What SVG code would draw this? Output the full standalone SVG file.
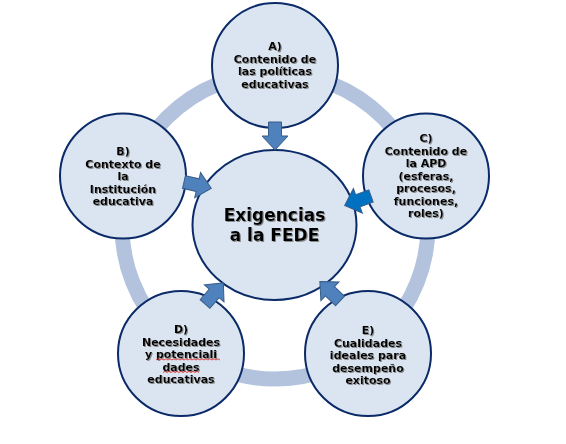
<svg xmlns="http://www.w3.org/2000/svg" width="566" height="444" viewBox="0 0 566 444">
  <defs>
    <filter id="sh" x="-10%" y="-10%" width="130%" height="130%">
      <feDropShadow dx="1" dy="1" stdDeviation="0.4" flood-color="#7f7f7f" flood-opacity="0.9"/>
    </filter>
    <path id="arr" d="M0,-6.5 L14,-6.5 L14,-13 L28,0 L14,13 L14,6.5 L0,6.5 Z"/>
  </defs>
  <style>
    .node { fill: #dbe5f1; stroke: #0b2a68; stroke-width: 2; }
    .lbl { font-family: "DejaVu Sans", Verdana, sans-serif; font-weight: bold; font-size: 11px; fill: #000; text-anchor: middle; filter: url(#sh); }
    .big { font-size: 17px; }
    .arrow { fill: #4f81bd; stroke: #385d8a; stroke-width: 1; }
    .arrow2 { fill: #0070c0; stroke: #385d8a; stroke-width: 1; }
    .squig { fill: none; stroke: #e03030; stroke-width: 0.9; }
  </style>
  <rect width="566" height="444" fill="#ffffff"/>
  <circle id="ring" cx="275" cy="226" r="153" fill="none" stroke="#b3c3de" stroke-width="15"/>

  <g id="center">
    <ellipse class="node" cx="274.5" cy="225" rx="82" ry="75"/>
    <text class="lbl big" x="274.5" y="221">Exigencias</text>
    <text class="lbl big" x="274.5" y="241">a la FEDE</text>
  </g>

  <g id="nodeA">
    <ellipse class="node" cx="275" cy="65.5" rx="63" ry="62.5"/>
    <text class="lbl" x="275" y="50">A)</text>
    <text class="lbl" x="275" y="62.5">Contenido de</text>
    <text class="lbl" x="275" y="75">las políticas</text>
    <text class="lbl" x="275" y="87.5">educativas</text>
  </g>

  <g id="nodeB">
    <ellipse class="node" cx="123" cy="176" rx="63" ry="62.5"/>
    <text class="lbl" x="123" y="155">B)</text>
    <text class="lbl" x="123" y="167.5">Contexto de</text>
    <text class="lbl" x="123" y="180">la</text>
    <text class="lbl" x="123" y="192.5">Institución</text>
    <text class="lbl" x="123" y="205">educativa</text>
  </g>

  <g id="nodeC">
    <ellipse class="node" cx="426" cy="176" rx="63" ry="62.5"/>
    <text class="lbl" x="426" y="142">C)</text>
    <text class="lbl" x="426" y="154.5">Contenido de</text>
    <text class="lbl" x="426" y="167">la APD</text>
    <text class="lbl" x="426" y="179.5">(esferas,</text>
    <text class="lbl" x="426" y="192">procesos,</text>
    <text class="lbl" x="426" y="204.5">funciones,</text>
    <text class="lbl" x="426" y="217">roles)</text>
  </g>

  <g id="nodeD">
    <ellipse class="node" cx="181" cy="353.5" rx="63" ry="62.5"/>
    <text class="lbl" x="181" y="333">D)</text>
    <text class="lbl" x="181" y="345.5">Necesidades</text>
    <text class="lbl" x="181" y="358">y potenciali</text>
    <text class="lbl" x="181" y="370.5">dades</text>
    <text class="lbl" x="181" y="383">educativas</text>
    <path class="squig" d="M156,360 l2,-1.2 l2,1.2 l2,-1.2 l2,1.2 l2,-1.2 l2,1.2 l2,-1.2 l2,1.2 l2,-1.2 l2,1.2 l2,-1.2 l2,1.2 l2,-1.2 l2,1.2 l2,-1.2 l2,1.2 l2,-1.2 l2,1.2 l2,-1.2 l2,1.2 l2,-1.2 l2,1.2 l2,-1.2 l2,1.2 l2,-1.2 l2,1.2 l2,-1.2 l2,1.2 l2,-1.2 l2,1.2 l2,-1.2 l2,1.2"/>
    <path class="squig" d="M163,372.5 l2,-1.2 l2,1.2 l2,-1.2 l2,1.2 l2,-1.2 l2,1.2 l2,-1.2 l2,1.2 l2,-1.2 l2,1.2 l2,-1.2 l2,1.2 l2,-1.2 l2,1.2 l2,-1.2 l2,1.2 l2,-1.2 l2,1.2"/>
  </g>

  <g id="nodeE">
    <ellipse class="node" cx="368" cy="353.5" rx="63" ry="62.5"/>
    <text class="lbl" x="368" y="334">E)</text>
    <text class="lbl" x="368" y="346.5">Cualidades</text>
    <text class="lbl" x="368" y="359">ideales para</text>
    <text class="lbl" x="368" y="371.5">desempeño</text>
    <text class="lbl" x="368" y="384">exitoso</text>
  </g>

  <g id="connectors">
    <use href="#arr" class="arrow" transform="translate(275,122) rotate(90)"/>
    <use href="#arr" class="arrow" transform="translate(184,182) rotate(13)"/>
    <use href="#arr" class="arrow2" transform="translate(371,196) rotate(160)"/>
    <use href="#arr" class="arrow" transform="translate(205,304) rotate(-49)"/>
    <use href="#arr" class="arrow" transform="translate(340,301) rotate(-136)"/>
  </g>
</svg>
